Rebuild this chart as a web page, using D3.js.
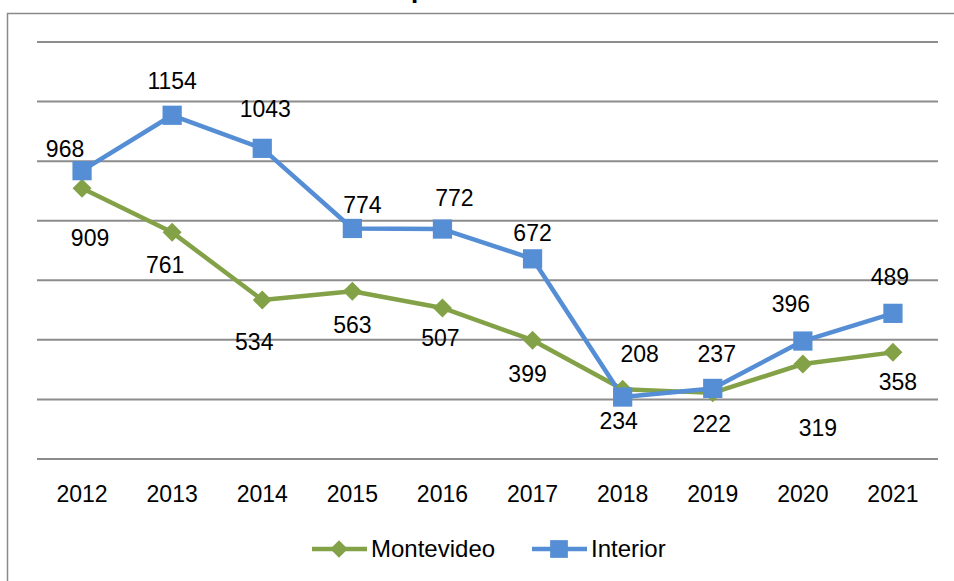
<!DOCTYPE html>
<html>
<head>
<meta charset="utf-8">
<script src="https://cdn.jsdelivr.net/npm/d3@7"></script>
<style>
  body { margin: 0; background: #fff; }
  svg { display: block; font-family: "Liberation Sans", Arial, sans-serif; }
</style>
</head>
<body>
<div id="graf"></div>
<script>
const anios = ["2012","2013","2014","2015","2016","2017","2018","2019","2020","2021"]
const montevideo = [909, 761, 534, 563, 507, 399, 234, 222, 319, 358]
const interior = [968, 1154, 1043, 774, 772, 672, 208, 237, 396, 489]
const gridTicks = [0, 200, 400, 600, 800, 1000, 1200, 1400]

// desplazamientos de las etiquetas (a mano, como en el original)
const offMvd = [[8,58],[-7,41],[-8,50],[0,42],[-2,38],[-5,42],[-4,40],[-1,39],[15,72],[5,38]]
const offInt = [[-17,-14],[0,-26],[3,-31],[10,-15],[12,-23],[0,-18],[17,-35],[4,-26],[-12,-29],[-3,-28]]

const anchoTotal = 954
const altoTotal = 581
const margins = { top: 42, right: 16, bottom: 122, left: 37 }
const ancho = anchoTotal - margins.left - margins.right
const alto = altoTotal - margins.top - margins.bottom

const verde = "#83A247"
const azul = "#558ED5"

const svg = d3.select("#graf").append("svg")
  .attr("width", anchoTotal).attr("height", altoTotal)

// marco del grafico y titulo (recortado arriba, como en el original)
svg.append("path").attr("d", "M7.5,581V13.5H954")
  .attr("fill", "none").attr("stroke", "#8a8a8a").attr("stroke-width", 1.5)
svg.append("text").attr("x", 419).attr("y", -2).attr("text-anchor", "middle")
  .attr("font-weight", "bold").attr("font-size", 26).text("p")

const g = svg.append("g").attr("transform", `translate(${margins.left}, ${margins.top})`)

const x = d3.scaleBand().domain(anios).range([0, ancho])
const y = d3.scaleLinear().domain([0, 1400]).range([alto, 0])
const cx = d => x(d) + x.bandwidth() / 2

// lineas de grilla
g.selectAll(".grid").data(gridTicks).enter().append("line")
  .attr("x1", 0).attr("x2", ancho)
  .attr("y1", d => y(d)).attr("y2", d => y(d))
  .attr("stroke", "#8c8c8c").attr("stroke-width", 2)

// eje x
const ejeX = g.append("g").attr("transform", `translate(0, ${alto})`)
  .call(d3.axisBottom(x).tickSize(0).tickPadding(27))
ejeX.select(".domain").remove()
ejeX.selectAll("text").attr("font-size", 23).attr("fill", "#000")
  .attr("font-family", "Liberation Sans, Arial, sans-serif")

const linea = vals => d3.line().x((d, i) => cx(anios[i])).y(d => y(d))(vals)

const series = [
  { nombre: "Montevideo", vals: montevideo, color: verde, sym: d3.symbolDiamond2, size: 230, off: offMvd },
  { nombre: "Interior", vals: interior, color: azul, sym: d3.symbolSquare, size: 370, off: offInt }
]

series.forEach(s => {
  g.append("path").attr("d", linea(s.vals)).attr("fill", "none")
    .attr("stroke", s.color).attr("stroke-width", 4.5).attr("stroke-linejoin", "round")
})
series.forEach(s => {
  g.selectAll(null).data(s.vals).enter().append("path")
    .attr("d", d3.symbol().type(s.sym).size(s.size))
    .attr("transform", (d, i) => `translate(${cx(anios[i])}, ${y(d)})`)
    .attr("fill", s.color)
})
series.forEach(s => {
  g.selectAll(null).data(s.vals).enter().append("text")
    .attr("x", (d, i) => cx(anios[i]) + s.off[i][0])
    .attr("y", (d, i) => y(d) + s.off[i][1])
    .attr("text-anchor", "middle").attr("font-size", 23).attr("fill", "#000")
    .text(d => d)
})

// leyenda
const leyenda = svg.append("g").attr("transform", "translate(0, 549)")
const posLeyenda = [312, 532]
series.forEach((s, i) => {
  const l = leyenda.append("g").attr("transform", `translate(${posLeyenda[i]}, 0)`)
  l.append("line").attr("x1", 0).attr("x2", 55).attr("stroke", s.color).attr("stroke-width", 4.5)
  l.append("path").attr("d", d3.symbol().type(s.sym).size(s.size * 0.85))
    .attr("transform", "translate(27, 0)").attr("fill", s.color)
  l.append("text").attr("x", 59).attr("y", 8).attr("font-size", 24).text(s.nombre)
})
</script>
</body>
</html>
